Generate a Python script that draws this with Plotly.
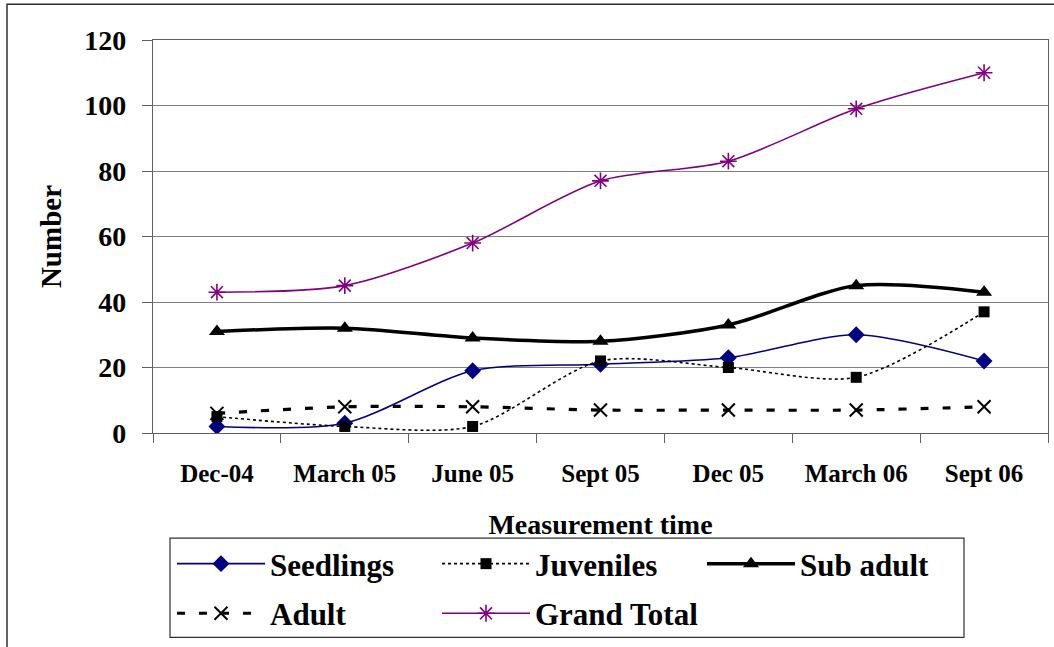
import plotly.graph_objects as go

categories = ["Dec-04", "March 05", "June 05", "Sept 05", "Dec 05", "March 06", "Sept 06"]
seedlings = [2, 3, 19, 21, 23, 30, 22]
juveniles = [5, 2, 2, 22, 20, 17, 37]
sub_adult = [31, 32, 29, 28, 33, 45, 43]
adult = [6, 8, 8, 7, 7, 7, 8]
grand_total = [43, 45, 58, 77, 83, 99, 110]
y_ticks = [0, 20, 40, 60, 80, 100, 120]

FONT = "Liberation Serif"

fig = go.Figure()
fig.add_trace(go.Scatter(x=categories, y=seedlings, name="Seedlings", mode="lines+markers",
                         line=dict(color="#000080", width=1.6, shape="spline", smoothing=0.8),
                         marker=dict(symbol="diamond", size=13, color="#000080"), legend="legend"))
fig.add_trace(go.Scatter(x=categories, y=juveniles, name="Juveniles", mode="lines+markers",
                         line=dict(color="black", width=1.6, dash="dot", shape="spline", smoothing=0.8),
                         marker=dict(symbol="square", size=11, color="black"), legend="legend"))
fig.add_trace(go.Scatter(x=categories, y=sub_adult, name="Sub adult", mode="lines+markers",
                         line=dict(color="black", width=3.5, shape="spline", smoothing=0.8),
                         marker=dict(symbol="triangle-up", size=14, color="black"), legend="legend"))
fig.add_trace(go.Scatter(x=categories, y=adult, name="Adult", mode="lines+markers",
                         line=dict(color="black", width=3.2, dash="8px,14px", shape="spline", smoothing=0.8),
                         marker=dict(symbol="x-thin-open", size=13, color="black", line=dict(width=2, color="black")),
                         legend="legend2"))
fig.add_trace(go.Scatter(x=categories, y=grand_total, name="Grand Total", mode="lines+markers",
                         line=dict(color="#800080", width=1.6, shape="spline", smoothing=0.8),
                         marker=dict(symbol="asterisk-open", size=14, color="#800080", line=dict(width=1.6, color="#800080")),
                         legend="legend2"))

W, H = 1054, 647
L, R, T, B = 153, 6, 40, 211
pw, ph = W - L - R, H - T - B

def px(x):
    return (x - L) / pw

def py(y):
    return (H - B - y) / ph

legend_common = dict(orientation="h", xanchor="left", yanchor="middle",
                     font=dict(family=FONT, size=31, color="black", weight="bold"),
                     bgcolor="rgba(0,0,0,0)", borderwidth=0,
                     entrywidthmode="pixels", entrywidth=162, itemwidth=88,
                     traceorder="normal", itemclick=False)

fig.update_layout(
    width=W, height=H,
    margin=dict(l=L, r=R, t=T, b=B, pad=0),
    paper_bgcolor="white", plot_bgcolor="white",
    font=dict(family=FONT, color="black"),
    showlegend=True,
    legend=dict(x=px(172), y=py(568), **legend_common),
    legend2=dict(x=px(172), y=py(618), **legend_common),
    xaxis=dict(
        type="category", range=[-0.5, 6.5],
        showgrid=False, showline=True, linecolor="#606060", linewidth=1.3, mirror=True,
        ticks="outside", tickson="boundaries", ticklen=9, tickcolor="#606060", tickwidth=1.3,
        tickfont=dict(family=FONT, size=25, color="black", weight="bold"),
        ticklabelstandoff=18,
        title=dict(text="<b>Measurement time</b>", font=dict(family=FONT, size=28, color="black"), standoff=28),
    ),
    yaxis=dict(
        range=[0, 120], tickvals=y_ticks, ticktext=[str(v) for v in y_ticks],
        showgrid=True, gridcolor="#808080", gridwidth=1.2,
        showline=True, linecolor="#606060", linewidth=1.3, mirror=True,
        ticks="outside", ticklen=10, tickcolor="#606060", tickwidth=1.3,
        tickfont=dict(family=FONT, size=28, color="black", weight="bold"),
        ticklabelstandoff=10,
        title=dict(text="<b>Number</b>", font=dict(family=FONT, size=29, color="black"), standoff=14),
        zeroline=False,
    ),
    shapes=[
        dict(type="rect", xref="paper", yref="paper", x0=px(7), x1=px(1060), y0=py(660), y1=py(4),
             line=dict(color="#303030", width=1.5), fillcolor="rgba(0,0,0,0)", layer="below"),
        dict(type="rect", xref="paper", yref="paper", x0=px(170), x1=px(964), y0=py(642), y1=py(542),
             line=dict(color="#303030", width=1.2), fillcolor="rgba(0,0,0,0)", layer="below"),
    ],
)

fig.write_html("out.html")
